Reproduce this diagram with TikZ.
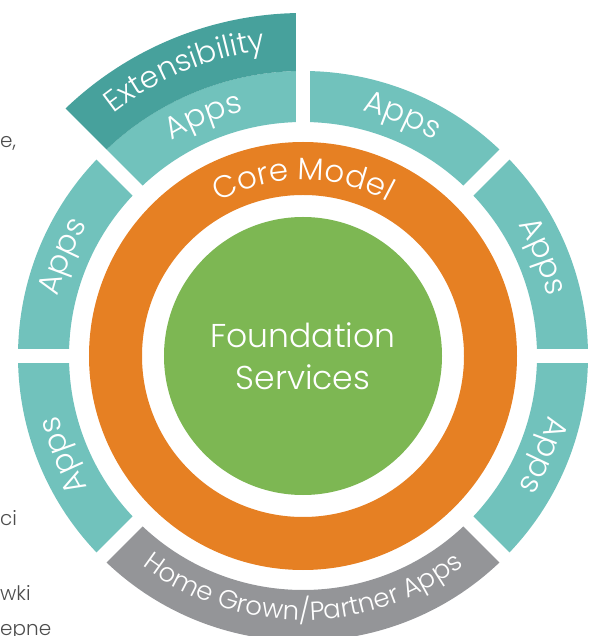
\documentclass[tikz,border=0pt]{standalone}
\usepackage{fontspec}
\setmainfont{Poppins Light}
\usetikzlibrary{decorations.text}
\definecolor{appteal}{HTML}{71C2BC}
\definecolor{extteal}{HTML}{47A19C}
\definecolor{coreorange}{HTML}{E68023}
\definecolor{foundgreen}{HTML}{7DB753}
\definecolor{homegray}{HTML}{949598}
\definecolor{pagetext}{HTML}{4D4D4D}
\tikzset{
	foundation/.style={circle,fill=foundgreen,minimum size=278pt,inner sep=0pt,
		text=white,align=center,font=\fontsize{33}{41.7}\selectfont},
	gapline/.style={white,line width=14pt},
	ringlabel/.style 2 args={decorate,decoration={text along path,text align=center,
		text color=white,text={|\fontsize{#1}{#1}\selectfont|#2}}},
	pagefrag/.style={text=pagetext,inner sep=0pt,font=\fontsize{20}{20}\selectfont}
}

\begin{document}
\begin{tikzpicture}[x=1pt,y=1pt]
	\clip (-303,-280) rectangle (289,356);
	
	\node[foundation] (found) at (0,0) {Foundation\\Services};
	\fill[coreorange,even odd rule] (0,0) circle[radius=214] circle[radius=161];
	
	\fill[appteal] (-45:234) -- (-45:285) arc[start angle=-45,end angle=225,radius=285]
		-- (225:234) arc[start angle=225,end angle=-45,radius=234] -- cycle;
	\fill[homegray] (225:234) -- (225:285) arc[start angle=225,end angle=315,radius=285]
		-- (315:234) arc[start angle=315,end angle=225,radius=234] -- cycle;
	\fill[extteal] (90:285) -- (90:343) arc[start angle=90,end angle=135,radius=343]
		-- (135:285) arc[start angle=135,end angle=90,radius=285] -- cycle;
	
	\foreach \a in {0,45,90,135,180,225,315}
		\draw[gapline] (\a:222) -- (\a:350);
	
	\path[ringlabel={31}{Core Model}] (135:176) arc[start angle=135,end angle=45,radius=176];
	\foreach \a in {135,90,45,0,225,180}
		\path[ringlabel={31}{Apps}] (\a:252) arc[start angle=\a,end angle=\a-45,radius=252];
	\path[ringlabel={30}{Extensibility}] (135:308) arc[start angle=135,end angle=90,radius=308];
	\path[ringlabel={26}{Home Grown/Partner Apps}] (225:264) arc[start angle=225,end angle=315,radius=264];
	
	\node[pagefrag,anchor=base west] (frage) at (-303,208) {e,};
	\node[pagefrag,anchor=base west] (fragci) at (-303,-169) {ci};
	\node[pagefrag,anchor=base west] (fragwki) at (-303,-244) {wki};
	\node[pagefrag,anchor=base west] (fragepne) at (-303,-279) {epne};
\end{tikzpicture}
\end{document}
